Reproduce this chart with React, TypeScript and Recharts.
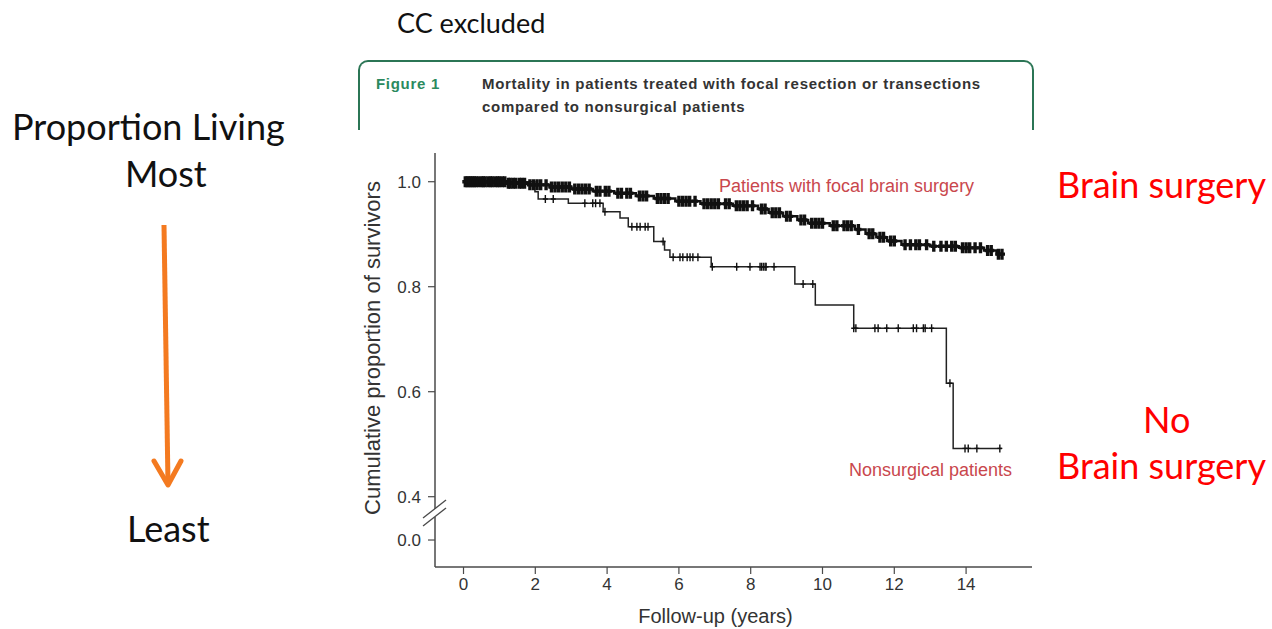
import React from "react";
import { ComposedChart, Line, Scatter, XAxis, YAxis, ReferenceLine } from "recharts";

// Kaplan-Meier steps: time (years) where the curve drops, and survival after the drop
const surgicalStepTimes = [
  0, 1.2, 1.8, 2.4, 3.0, 3.6, 4.2, 4.8, 5.3, 5.9, 6.6, 7.5, 8.2, 8.5, 8.9, 9.3, 9.6,
  10.2, 10.9, 11.2, 11.5, 11.8, 12.2, 13.0, 13.8, 14.5, 14.85, 15.0,
];
const surgicalStepSurvival = [
  1.0, 0.997, 0.994, 0.99, 0.986, 0.982, 0.978, 0.973, 0.968, 0.963, 0.958, 0.954, 0.948,
  0.941, 0.934, 0.927, 0.921, 0.916, 0.909, 0.901, 0.894, 0.887, 0.88, 0.877, 0.874, 0.869,
  0.862, 0.862,
];
const surgicalCensored = [
  0.05, 0.1, 0.15, 0.2, 0.25, 0.3, 0.35, 0.42, 0.5, 0.55, 0.6, 0.68, 0.75, 0.8, 0.88, 0.95,
  1.0, 1.08, 1.15, 1.25, 1.3, 1.38, 1.45, 1.55, 1.62, 1.7, 1.85, 1.95, 2.05, 2.15, 2.3, 2.45,
  2.55, 2.65, 2.75, 2.85, 2.95, 3.1, 3.2, 3.3, 3.4, 3.5, 3.7, 3.8, 3.95, 4.05, 4.3, 4.4, 4.55,
  4.65, 4.9, 5.0, 5.1, 5.4, 5.5, 5.6, 5.7, 6.0, 6.1, 6.2, 6.3, 6.45, 6.7, 6.8, 6.9, 7.0, 7.1,
  7.3, 7.4, 7.6, 7.7, 7.8, 7.9, 8.05, 8.3, 8.4, 8.6, 8.7, 8.8, 9.0, 9.1, 9.4, 9.5, 9.7, 9.8,
  9.9, 10.0, 10.3, 10.4, 10.6, 10.7, 10.8, 11.0, 11.3, 11.4, 11.6, 11.7, 11.9, 12.0, 12.3,
  12.45, 12.6, 12.7, 12.9, 13.1, 13.3, 13.45, 13.6, 13.7, 13.9, 14.0, 14.1, 14.25, 14.4, 14.6,
  14.7, 14.9, 15.0,
];

const nonsurgicalStepTimes = [
  0, 1.99, 2.08, 2.92, 3.89, 4.36, 4.59, 5.3, 5.6, 5.75, 6.9, 9.23, 9.8, 10.87, 13.45, 13.64, 15.0,
];
const nonsurgicalStepSurvival = [
  1.0, 0.981, 0.967, 0.959, 0.943, 0.931, 0.914, 0.886, 0.87, 0.856, 0.838, 0.805, 0.765,
  0.721, 0.616, 0.492, 0.492,
];
const nonsurgicalCensored = [
  2.28, 2.5, 3.38, 3.6, 3.68, 3.8, 3.94, 4.69, 4.83, 4.92, 5.06, 5.14, 5.56, 5.84, 6.03, 6.11,
  6.23, 6.31, 6.39, 6.53, 6.93, 7.61, 7.98, 8.26, 8.3, 8.35, 8.4, 8.43, 8.65, 9.46, 9.73, 10.87,
  10.93, 11.46, 11.55, 11.79, 12.11, 12.53, 12.62, 12.81, 12.86, 13.04, 13.55, 13.97, 14.06,
  14.3, 14.94,
];

const xTicks = [0, 2, 4, 6, 8, 10, 12, 14];
// "0.0" is drawn below the axis break at a compressed position
const Y_ZERO_POS = 0.3175;
const yTicks = [Y_ZERO_POS, 0.4, 0.6, 0.8, 1.0];

const X_DOMAIN: [number, number] = [-0.794, 15.836];
const Y_DOMAIN: [number, number] = [0.2661, 1.0547];
const AXIS_COLOR = "#4a4a4a";

type Pt = { t: number; s: number };

function toCurve(times: number[], surv: number[]): Pt[] {
  return times.map((t, i) => ({ t, s: surv[i] }));
}

function survivalAt(times: number[], surv: number[], t: number) {
  let v = surv[0];
  for (let i = 0; i < times.length; i++) if (times[i] <= t) v = surv[i];
  return v;
}

function censorPoints(censored: number[], times: number[], surv: number[]): Pt[] {
  return censored.map((t) => ({ t, s: survivalAt(times, surv, t) }));
}

const surgicalCurve = toCurve(surgicalStepTimes, surgicalStepSurvival);
const nonsurgicalCurve = toCurve(nonsurgicalStepTimes, nonsurgicalStepSurvival);
const surgicalMarks = censorPoints(surgicalCensored, surgicalStepTimes, surgicalStepSurvival);
const nonsurgicalMarks = censorPoints(nonsurgicalCensored, nonsurgicalStepTimes, nonsurgicalStepSurvival);

const censorShape = (h: number, w: number, arm: number) => (props: any) => {
  const { cx, cy } = props;
  return (
    <path
      d={`M${cx},${cy - h} V${cy + h} M${cx - arm},${cy} H${cx + arm}`}
      stroke="#111"
      strokeWidth={w}
      fill="none"
    />
  );
};

const calibri = "Lato, 'Open Sans', sans-serif";
const arial = "'Liberation Sans', Arial, sans-serif";

function SurvivalChart() {
  return (
    <ComposedChart
      width={1272}
      height={629}
      margin={{ top: 153, right: 240, left: 375, bottom: 32 }}
      style={{ position: "absolute", left: 0, top: 0 }}
    >
      <XAxis
        type="number"
        dataKey="t"
        domain={X_DOMAIN}
        ticks={xTicks}
        allowDataOverflow
        height={30}
        tickSize={7}
        tickMargin={4}
        axisLine={{ stroke: AXIS_COLOR, strokeWidth: 1.5 }}
        tickLine={{ stroke: AXIS_COLOR, strokeWidth: 1.2 }}
        tick={{ fontSize: 17, fill: "#333", fontFamily: arial }}
        label={{
          value: "Follow-up (years)",
          position: "bottom",
          offset: 12,
          dx: -18,
          fontSize: 20,
          fill: "#333",
          fontFamily: arial,
        }}
      />
      <YAxis
        type="number"
        dataKey="s"
        domain={Y_DOMAIN}
        ticks={yTicks}
        allowDataOverflow
        width={60}
        tickSize={7}
        tickMargin={7}
        axisLine={false}
        tickLine={{ stroke: AXIS_COLOR, strokeWidth: 1.2 }}
        tickFormatter={(v: number) => (v === Y_ZERO_POS ? "0.0" : v.toFixed(1))}
        tick={{ fontSize: 17, fill: "#333", fontFamily: arial }}
        label={{
          value: "Cumulative proportion of survivors",
          angle: -90,
          position: "insideLeft",
          offset: -3,
          dy: -12,
          fontSize: 22,
          fill: "#333",
          fontFamily: arial,
          style: { textAnchor: "middle" },
        }}
      />
      {/* y axis drawn in two pieces around the break */}
      <ReferenceLine
        segment={[{ x: X_DOMAIN[0], y: Y_DOMAIN[1] }, { x: X_DOMAIN[0], y: 0.3766 }]}
        stroke={AXIS_COLOR}
        strokeWidth={1.5}
        ifOverflow="visible"
      />
      <ReferenceLine
        segment={[{ x: X_DOMAIN[0], y: 0.3613 }, { x: X_DOMAIN[0], y: Y_DOMAIN[0] }]}
        stroke={AXIS_COLOR}
        strokeWidth={1.5}
        ifOverflow="visible"
      />
      <ReferenceLine
        segment={[{ x: -1.128, y: 0.3594 }, { x: -0.487, y: 0.3937 }]}
        stroke={AXIS_COLOR}
        strokeWidth={1.3}
        ifOverflow="visible"
      />
      <ReferenceLine
        segment={[{ x: -1.128, y: 0.3442 }, { x: -0.487, y: 0.3785 }]}
        stroke={AXIS_COLOR}
        strokeWidth={1.3}
        ifOverflow="visible"
      />
      <Line
        data={nonsurgicalCurve}
        dataKey="s"
        type="stepAfter"
        stroke="#222"
        strokeWidth={1.5}
        dot={false}
        isAnimationActive={false}
      />
      <Line
        data={surgicalCurve}
        dataKey="s"
        type="stepAfter"
        stroke="#111"
        strokeWidth={2.5}
        dot={false}
        isAnimationActive={false}
      />
      <Scatter
        data={nonsurgicalMarks}
        dataKey="s"
        shape={censorShape(4, 1.4, 2.5)}
        isAnimationActive={false}
      />
      <Scatter
        data={surgicalMarks}
        dataKey="s"
        shape={censorShape(5.5, 3.4, 3)}
        isAnimationActive={false}
      />
    </ComposedChart>
  );
}

const abs = (left: number, top: number, extra: React.CSSProperties = {}): React.CSSProperties => ({
  position: "absolute",
  left,
  top,
  whiteSpace: "nowrap",
  lineHeight: 1,
  ...extra,
});

const captionStyle: React.CSSProperties = {
  fontFamily: arial,
  fontSize: 15,
  fontWeight: 700,
  letterSpacing: 0.7,
  color: "#333",
};

export default function App() {
  return (
    <div
      style={{
        position: "absolute",
        left: 0,
        top: 0,
        width: 1272,
        height: 629,
        background: "#fff",
        overflow: "hidden",
      }}
    >
      <div style={abs(397, 9, { fontFamily: calibri, fontSize: 27, color: "#111" })}>CC excluded</div>

      {/* figure caption box, open at the bottom */}
      <div
        style={{
          position: "absolute",
          left: 358,
          top: 60,
          width: 672,
          height: 68,
          border: "2px solid #2b7555",
          borderBottom: "none",
          borderRadius: "10px 10px 0 0",
        }}
      />
      <div style={abs(376, 76, { ...captionStyle, color: "#2b8a5e" })}>Figure 1</div>
      <div style={abs(482, 76, captionStyle)}>
        Mortality in patients treated with focal resection or transections
      </div>
      <div style={abs(482, 99, captionStyle)}>compared to nonsurgical patients</div>

      <SurvivalChart />

      <div style={abs(719, 177, { fontFamily: arial, fontSize: 18, color: "#c9474d" })}>
        Patients with focal brain surgery
      </div>
      <div style={abs(849, 461, { fontFamily: arial, fontSize: 18, color: "#c9474d" })}>
        Nonsurgical patients
      </div>

      {/* left-hand reading guide */}
      <div style={abs(12, 108, { fontFamily: calibri, fontSize: 36, color: "#111" })}>Proportion Living</div>
      <div style={abs(125, 155, { fontFamily: calibri, fontSize: 36, color: "#111" })}>Most</div>
      <svg width={60} height={280} style={{ position: "absolute", left: 136, top: 220 }}>
        <line x1={28} y1={5} x2={32} y2={264} stroke="#f47a20" strokeWidth={5} />
        <polyline
          points="18,241 32,265 45,241"
          fill="none"
          stroke="#f47a20"
          strokeWidth={5}
          strokeLinecap="round"
          strokeLinejoin="round"
        />
      </svg>
      <div style={abs(127, 510, { fontFamily: calibri, fontSize: 36, color: "#111" })}>Least</div>

      {/* right-hand group labels */}
      <div style={abs(1057, 166, { fontFamily: calibri, fontSize: 36, color: "#ff0000" })}>Brain surgery</div>
      <div style={abs(1143, 401, { fontFamily: calibri, fontSize: 36, color: "#ff0000" })}>No</div>
      <div style={abs(1057, 447, { fontFamily: calibri, fontSize: 36, color: "#ff0000" })}>Brain surgery</div>
    </div>
  );
}
